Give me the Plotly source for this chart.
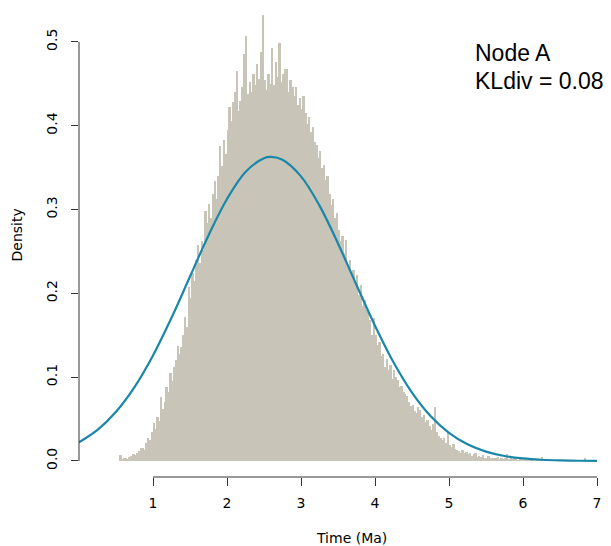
import plotly.graph_objects as go

# ---- data ----
bin_start = 0.5
bin_width = 0.025
density = [
    0, 0, 0.007, 0.002,
    0.003, 0.004, 0.002, 0.005,
    0.006, 0.008, 0.007, 0.010,
    0.012, 0.015, 0.016, 0.013,
    0.022, 0.028, 0.025, 0.034,
    0.045, 0.038, 0.052, 0.048,
    0.076, 0.062, 0.070, 0.088,
    0.082, 0.105, 0.095, 0.112,
    0.120, 0.137, 0.128, 0.136,
    0.150, 0.172, 0.160, 0.208,
    0.195, 0.224, 0.215, 0.240,
    0.258, 0.236, 0.262, 0.252,
    0.298, 0.284, 0.306, 0.290,
    0.318, 0.334, 0.312, 0.340,
    0.376, 0.352, 0.383, 0.366,
    0.395, 0.422, 0.405, 0.428,
    0.440, 0.465, 0.418, 0.430,
    0.446, 0.485, 0.507, 0.438,
    0.452, 0.440, 0.462, 0.448,
    0.474, 0.456, 0.488, 0.532,
    0.455, 0.442, 0.462, 0.450,
    0.493, 0.448, 0.476, 0.458,
    0.499, 0.452, 0.462, 0.468,
    0.468, 0.440, 0.455, 0.446,
    0.436, 0.446, 0.425, 0.433,
    0.420, 0.435, 0.415, 0.402,
    0.410, 0.392, 0.398, 0.380,
    0.377, 0.362, 0.370, 0.350,
    0.353, 0.335, 0.340, 0.318,
    0.305, 0.312, 0.290, 0.296,
    0.275, 0.262, 0.268, 0.248,
    0.264, 0.234, 0.240, 0.225,
    0.228, 0.210, 0.222, 0.198,
    0.210, 0.185, 0.192, 0.180,
    0.176, 0.168, 0.150, 0.170,
    0.150, 0.138, 0.142, 0.125,
    0.128, 0.112, 0.122, 0.108,
    0.115, 0.098, 0.109, 0.100,
    0.097, 0.088, 0.090, 0.082,
    0.080, 0.078, 0.070, 0.066,
    0.067, 0.060, 0.057, 0.064,
    0.061, 0.052, 0.055, 0.046,
    0.049, 0.042, 0.037, 0.044,
    0.064, 0.035, 0.030, 0.027,
    0.025, 0.028, 0.022, 0.035,
    0.019, 0.017, 0.020, 0.014,
    0.013, 0.012, 0.010, 0.013,
    0.010, 0.011, 0.008, 0.009,
    0.006, 0.008, 0.010, 0.005,
    0.006, 0.005, 0.007, 0.004,
    0.004, 0.006, 0.003, 0.004,
    0.004, 0.003, 0.005, 0.002,
    0.003, 0.002, 0.004, 0.008,
    0.002, 0.003, 0.002, 0.003,
    0.002, 0.001, 0.002, 0.003,
    0.001, 0.002, 0.001, 0.001,
    0.002, 0.001, 0.0, 0.001,
    0.001, 0.001, 0.005, 0.001,
    0.0, 0.001, 0.001, 0.0,
    0.001, 0.0, 0.001, 0.001,
    0.0, 0.001, 0.0, 0.001,
    0.001, 0.0, 0.0, 0.001,
    0.0, 0.001, 0.0, 0.0,
    0.0, 0.004, 0.0, 0.0,
    0.001, 0.0,
]

curve_x = [0, 0.25, 0.5, 0.75, 1.0, 1.25, 1.5, 1.75, 2.0, 2.25, 2.5, 2.6, 2.75,
           3.0, 3.25, 3.5, 3.75, 4.0, 4.25, 4.5, 4.75, 5.0, 5.25, 5.5, 5.75,
           6.0, 6.25, 6.5, 6.75, 7.0]
curve_y = [0.0222, 0.0370, 0.0587, 0.0882, 0.1259, 0.1708, 0.2200, 0.2691,
           0.3126, 0.3448, 0.3612, 0.3627, 0.3593, 0.3395, 0.3046, 0.2595,
           0.2100, 0.1614, 0.1178, 0.0816, 0.0537, 0.0336, 0.0199, 0.0112,
           0.0060, 0.0031, 0.0015, 0.0007, 0.0003, 0.0001]

x_ticks = [1, 2, 3, 4, 5, 6, 7]
y_ticks = [0.0, 0.1, 0.2, 0.3, 0.4, 0.5]
y_tick_labels = ["0.0", "0.1", "0.2", "0.3", "0.4", "0.5"]
label_lines = ["Node A", "KLdiv = 0.08"]

bin_centers = [bin_start + bin_width * (i + 0.5) for i in range(len(density))]

fig = go.Figure()
fig.add_trace(go.Bar(
    x=bin_centers, y=density, width=bin_width,
    marker=dict(color="#c8c4b8", line=dict(width=0)),
    hoverinfo="skip", showlegend=False,
))
fig.add_trace(go.Scatter(
    x=curve_x, y=curve_y, mode="lines",
    line=dict(color="#1a87a8", width=2.2, shape="spline"),
    showlegend=False,
))

W, H = 611, 546
ml, mr, mt, mb = 79, 10, 10, 69
tick_font = dict(family="DejaVu Sans", size=14, color="black")

fig.update_layout(
    width=W, height=H,
    margin=dict(l=ml, r=mr, t=mt, b=mb, pad=0),
    paper_bgcolor="white", plot_bgcolor="white",
    bargap=0,
    font=dict(family="DejaVu Sans", size=14, color="black"),
    xaxis=dict(range=[0, 7], tickvals=x_ticks, ticks="outside", ticklen=8,
               tickcolor="#333", tickwidth=1, showline=False, showgrid=False,
               zeroline=False, ticklabelstandoff=5, tickfont=tick_font),
    yaxis=dict(range=[-0.0191, 0.538], tickvals=y_ticks, ticktext=y_tick_labels,
               ticks="outside", ticklen=7, tickcolor="#333", tickwidth=1,
               showline=False, showgrid=False, zeroline=False, tickangle=-90,
               ticklabelstandoff=8, tickfont=tick_font),
)

# axis lines spanning only the tick range (R style)
fig.add_shape(type="line", xref="x", yref="paper", x0=x_ticks[0], x1=x_ticks[-1],
              y0=0, y1=0, line=dict(color="#333", width=1))
fig.add_shape(type="line", xref="paper", yref="y", x0=0, x1=0,
              y0=y_ticks[0], y1=y_ticks[-1], line=dict(color="#333", width=1))

ph = H - mt - mb
pw = W - ml - mr
def px_x(px):
    return (px - ml) / pw
def px_y(py):
    return (H - mb - py) / ph

fig.add_annotation(text="Time (Ma)", xref="paper", yref="paper",
                   x=px_x(354), y=px_y(538), showarrow=False,
                   xanchor="center", yanchor="middle",
                   font=dict(family="DejaVu Sans", size=14))
fig.add_annotation(text="Density", xref="paper", yref="paper",
                   x=px_x(17), y=px_y(235), showarrow=False, textangle=-90,
                   xanchor="center", yanchor="middle",
                   font=dict(family="DejaVu Sans", size=14))
fig.add_annotation(text=label_lines[0], xref="paper", yref="paper",
                   x=px_x(476), y=px_y(53), showarrow=False,
                   xanchor="left", yanchor="middle",
                   font=dict(family="Liberation Sans", size=23))
fig.add_annotation(text=label_lines[1], xref="paper", yref="paper",
                   x=px_x(476), y=px_y(81), showarrow=False,
                   xanchor="left", yanchor="middle",
                   font=dict(family="Liberation Sans", size=23))

fig.write_html("out.html",
               config={"displayModeBar": False},
               post_script="document.body.style.margin='0';"
                           "document.body.style.overflow='hidden';")
